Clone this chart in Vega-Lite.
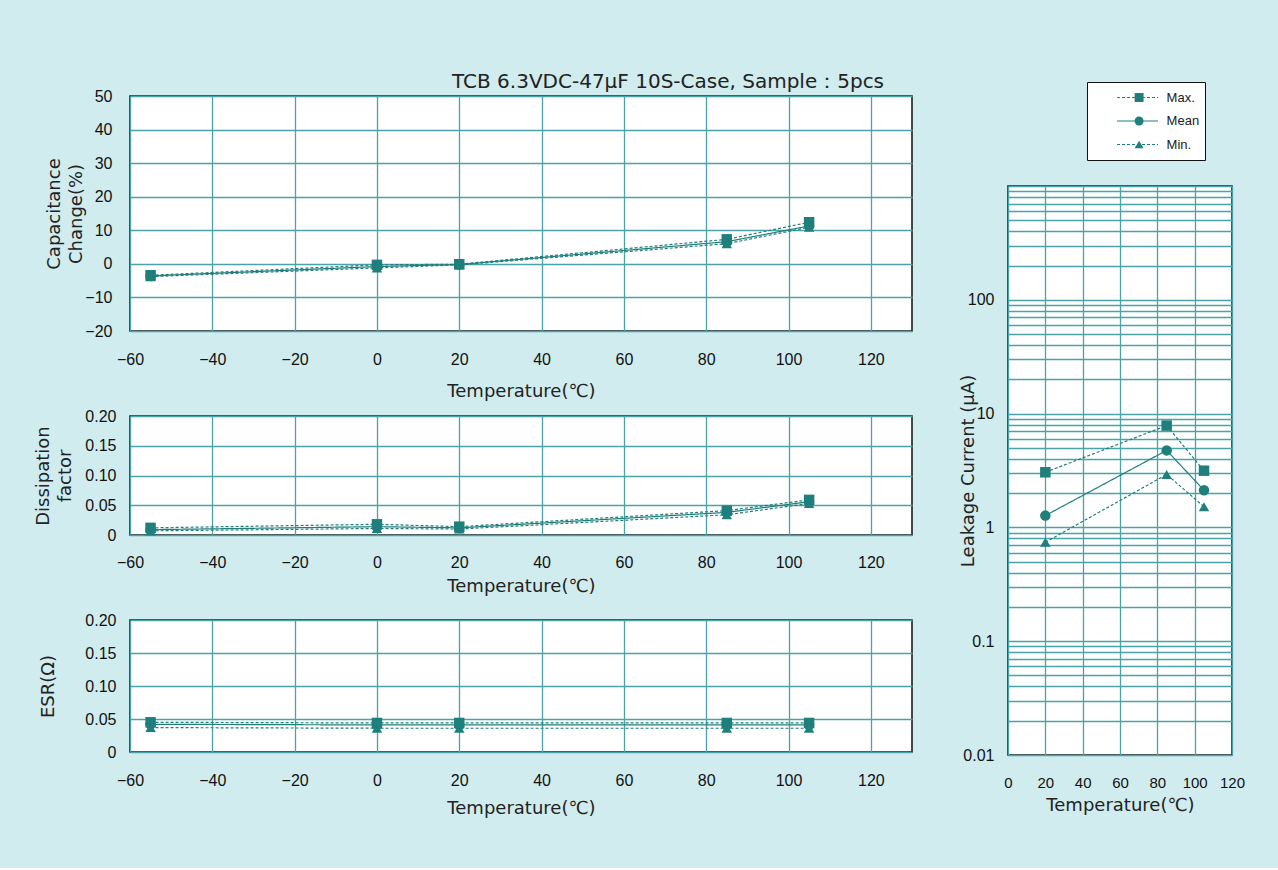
{
  "$schema": "https://vega.github.io/schema/vega-lite/v6.json",
  "background": "#D0ECEF",
  "padding": {"left": 34, "top": 71, "right": 40, "bottom": 50},
  "datasets": {
    "cap": [
      {"t": -55, "s": "Max.", "v": -3.4}, {"t": 0, "s": "Max.", "v": -0.3}, {"t": 20, "s": "Max.", "v": -0.1}, {"t": 85, "s": "Max.", "v": 7.3}, {"t": 105, "s": "Max.", "v": 12.4},
      {"t": -55, "s": "Mean", "v": -3.6}, {"t": 0, "s": "Mean", "v": -0.8}, {"t": 20, "s": "Mean", "v": -0.2}, {"t": 85, "s": "Mean", "v": 6.6}, {"t": 105, "s": "Mean", "v": 11.3},
      {"t": -55, "s": "Min.", "v": -3.8}, {"t": 0, "s": "Min.", "v": -1.2}, {"t": 20, "s": "Min.", "v": -0.3}, {"t": 85, "s": "Min.", "v": 6.0}, {"t": 105, "s": "Min.", "v": 10.9}
    ],
    "df": [
      {"t": -55, "s": "Max.", "v": 0.012}, {"t": 0, "s": "Max.", "v": 0.018}, {"t": 20, "s": "Max.", "v": 0.014}, {"t": 85, "s": "Max.", "v": 0.041}, {"t": 105, "s": "Max.", "v": 0.059},
      {"t": -55, "s": "Mean", "v": 0.009}, {"t": 0, "s": "Mean", "v": 0.014}, {"t": 20, "s": "Mean", "v": 0.012}, {"t": 85, "s": "Mean", "v": 0.038}, {"t": 105, "s": "Mean", "v": 0.056},
      {"t": -55, "s": "Min.", "v": 0.007}, {"t": 0, "s": "Min.", "v": 0.011}, {"t": 20, "s": "Min.", "v": 0.010}, {"t": 85, "s": "Min.", "v": 0.034}, {"t": 105, "s": "Min.", "v": 0.053}
    ],
    "esr": [
      {"t": -55, "s": "Max.", "v": 0.045}, {"t": 0, "s": "Max.", "v": 0.044}, {"t": 20, "s": "Max.", "v": 0.044}, {"t": 85, "s": "Max.", "v": 0.044}, {"t": 105, "s": "Max.", "v": 0.044},
      {"t": -55, "s": "Mean", "v": 0.042}, {"t": 0, "s": "Mean", "v": 0.041}, {"t": 20, "s": "Mean", "v": 0.041}, {"t": 85, "s": "Mean", "v": 0.041}, {"t": 105, "s": "Mean", "v": 0.041},
      {"t": -55, "s": "Min.", "v": 0.037}, {"t": 0, "s": "Min.", "v": 0.036}, {"t": 20, "s": "Min.", "v": 0.036}, {"t": 85, "s": "Min.", "v": 0.036}, {"t": 105, "s": "Min.", "v": 0.036}
    ],
    "lc": [
      {"t": 20, "s": "Max.", "v": 3.05}, {"t": 85, "s": "Max.", "v": 7.85}, {"t": 105, "s": "Max.", "v": 3.15},
      {"t": 20, "s": "Mean", "v": 1.27}, {"t": 85, "s": "Mean", "v": 4.75}, {"t": 105, "s": "Mean", "v": 2.12},
      {"t": 20, "s": "Min.", "v": 0.74}, {"t": 85, "s": "Min.", "v": 2.92}, {"t": 105, "s": "Min.", "v": 1.52}
    ]
  },
  "config": {
    "font": "Liberation Sans",
    "view": {"stroke": "#111", "strokeWidth": 1.5, "fill": "white"},
    "axis": {"grid": true, "gridColor": "#4aa3a9", "gridWidth": 1.3, "domain": false, "ticks": false, "labelOverlap": false, "labelFlush": false, "labelFont": "Liberation Sans", "labelFontSize": 16, "labelColor": "#111", "titleFont": "DejaVu Sans", "titleFontSize": 18, "titleLineHeight": 22, "titleFontWeight": "normal", "titleColor": "#222"},
    "line": {"color": "#1f7f7c", "strokeWidth": 1.2},
    "point": {"color": "#1f7f7c", "filled": true, "opacity": 1, "size": 110}
  },
  "spacing": 46,
  "resolve": {"legend": {"strokeDash": "independent", "shape": "independent"}},
  "hconcat": [
    {
      "bounds": "flush",
      "spacing": 85,
      "resolve": {"legend": {"strokeDash": "independent", "shape": "independent"}},
      "vconcat": [
        {
          "width": 782, "height": 235,
          "data": {"name": "cap"},
          "title": {"text": "TCB 6.3VDC-47μF 10S-Case, Sample：5pcs", "anchor": "start", "frame": "group", "dx": 322, "offset": -4, "font": "DejaVu Sans", "fontSize": 20, "fontWeight": "normal", "color": "#222"},
          "encoding": {
            "x": {"field": "t", "type": "quantitative", "scale": {"domain": [-60, 130], "nice": false, "zero": false}, "axis": {"values": [-60, -40, -20, 0, 20, 40, 60, 80, 100, 120], "title": "Temperature(℃)", "labelPadding": 20, "titlePadding": 15}},
            "y": {"field": "v", "type": "quantitative", "scale": {"domain": [-20, 50], "nice": false}, "axis": {"values": [-20, -10, 0, 10, 20, 30, 40, 50], "title": ["Capacitance", "Change(%)"], "labelPadding": 18, "titlePadding": -1}}
          },
          "layer": [
            {"mark": {"type": "line"}, "encoding": {"strokeDash": {"field": "s", "type": "nominal", "scale": {"domain": ["Max.", "Mean", "Min."], "range": [[3, 2], [1, 0], [3, 2]]}, "legend": null}}},
            {"mark": {"type": "point"}, "encoding": {"shape": {"field": "s", "type": "nominal", "scale": {"domain": ["Max.", "Mean", "Min."], "range": ["square", "circle", "triangle-up"]}, "legend": null}}}
          ]
        },
        {
          "width": 782, "height": 119,
          "data": {"name": "df"},
          "encoding": {
            "x": {"field": "t", "type": "quantitative", "scale": {"domain": [-60, 130], "nice": false, "zero": false}, "axis": {"values": [-60, -40, -20, 0, 20, 40, 60, 80, 100, 120], "title": "Temperature(℃)", "labelPadding": 19, "titlePadding": 7}},
            "y": {"field": "v", "type": "quantitative", "scale": {"domain": [0, 0.2], "nice": false}, "axis": {"values": [0, 0.05, 0.1, 0.15, 0.2], "labelExpr": "datum.value == 0 ? '0' : format(datum.value, '.2f')", "title": ["Dissipation", "factor"], "labelPadding": 14, "titlePadding": 10}}
          },
          "layer": [
            {"mark": {"type": "line"}, "encoding": {"strokeDash": {"field": "s", "type": "nominal", "scale": {"domain": ["Max.", "Mean", "Min."], "range": [[3, 2], [1, 0], [3, 2]]}, "legend": null}}},
            {"mark": {"type": "point"}, "encoding": {"shape": {"field": "s", "type": "nominal", "scale": {"domain": ["Max.", "Mean", "Min."], "range": ["square", "circle", "triangle-up"]}, "legend": null}}}
          ]
        },
        {
          "width": 782, "height": 132,
          "data": {"name": "esr"},
          "encoding": {
            "x": {"field": "t", "type": "quantitative", "scale": {"domain": [-60, 130], "nice": false, "zero": false}, "axis": {"values": [-60, -40, -20, 0, 20, 40, 60, 80, 100, 120], "title": "Temperature(℃)", "labelPadding": 20, "titlePadding": 11}},
            "y": {"field": "v", "type": "quantitative", "scale": {"domain": [0, 0.2], "nice": false}, "axis": {"values": [0, 0.05, 0.1, 0.15, 0.2], "labelExpr": "datum.value == 0 ? '0' : format(datum.value, '.2f')", "title": "ESR(Ω)", "labelPadding": 14, "titlePadding": 27}}
          },
          "layer": [
            {"mark": {"type": "line"}, "encoding": {"strokeDash": {"field": "s", "type": "nominal", "scale": {"domain": ["Max.", "Mean", "Min."], "range": [[3, 2], [1, 0], [3, 2]]}, "legend": null}}},
            {"mark": {"type": "point"}, "encoding": {"shape": {"field": "s", "type": "nominal", "scale": {"domain": ["Max.", "Mean", "Min."], "range": ["square", "circle", "triangle-up"]}, "legend": null}}}
          ]
        }
      ]
    },
    {
      "bounds": "flush",
      "spacing": 0,
      "resolve": {"legend": {"strokeDash": "independent", "shape": "independent"}},
      "vconcat": [
        {
          "width": 224, "height": 90,
          "data": {"values": []},
          "mark": {"type": "point"},
          "view": {"stroke": null, "fill": null},
          "encoding": {
            "shape": {"field": "s", "type": "nominal", "scale": {"domain": ["Max.", "Mean", "Min."], "range": ["square", "circle", "triangle-up"]},
              "legend": {
                "title": null, "orient": "none", "legendX": 79, "legendY": -14,
                "fillColor": "white", "strokeColor": "#111", "padding": 5,
                "symbolSize": 80, "clipHeight": 21, "rowPadding": 2.5,
                "symbolOffset": 40.6, "labelOffset": 21,
                "labelExpr": "datum.label + '   '",
                "labelFont": "Liberation Sans", "labelFontSize": 13, "labelColor": "#222",
                "symbolFillColor": "#1f7f7c", "symbolStrokeColor": "#1f7f7c", "symbolStrokeWidth": 0, "symbolOpacity": 1
              }}
          }
        },
        {
          "width": 224, "height": 569,
          "data": {"name": "lc"},
          "encoding": {
            "x": {"field": "t", "type": "quantitative", "scale": {"domain": [0, 120], "nice": false}, "axis": {"values": [0, 20, 40, 60, 80, 100, 120], "title": "Temperature(℃)", "labelFontSize": 15, "labelPadding": 20, "titlePadding": 6}},
            "y": {"field": "v", "type": "quantitative", "scale": {"type": "log", "domain": [0.01, 1000], "nice": false}, "axis": {"values": [0.01, 0.02, 0.03, 0.04, 0.05, 0.06, 0.07, 0.08, 0.09, 0.1, 0.2, 0.3, 0.4, 0.5, 0.6, 0.7, 0.8, 0.9, 1, 2, 3, 4, 5, 6, 7, 8, 9, 10, 20, 30, 40, 50, 60, 70, 80, 90, 100, 200, 300, 400, 500, 600, 700, 800, 900, 1000], "labelExpr": "(abs(log(datum.value)/LN10 - round(log(datum.value)/LN10)) < 0.000001 && datum.value < 500) ? format(datum.value, '~g') : ''", "title": "Leakage Current (μA)", "labelPadding": 14, "titlePadding": -15}}
          },
          "layer": [
            {"mark": {"type": "line"}, "encoding": {"strokeDash": {"field": "s", "type": "nominal", "scale": {"domain": ["Max.", "Mean", "Min."], "range": [[3, 2], [1, 0], [3, 2]]},
              "legend": {
                "title": null, "orient": "none", "legendX": 79, "legendY": -104,
                "padding": 5,
                "symbolType": "stroke", "symbolSize": 1681, "clipHeight": 21, "rowPadding": 2.5,
                "symbolOffset": 24, "labelOffset": 6,
                "labelExpr": "''",
                "labelFont": "Liberation Sans", "labelFontSize": 13,
                "symbolStrokeColor": "#1f7f7c", "symbolStrokeWidth": 1.2, "symbolOpacity": 1
              }}}},
            {"transform": [{"filter": "datum.s === 'Max.'"}], "mark": {"type": "point", "shape": "square"}},
            {"transform": [{"filter": "datum.s === 'Mean'"}], "mark": {"type": "point", "shape": "circle"}},
            {"transform": [{"filter": "datum.s === 'Min.'"}], "mark": {"type": "point", "shape": "triangle-up"}}
          ]
        }
      ]
    }
  ]
}
